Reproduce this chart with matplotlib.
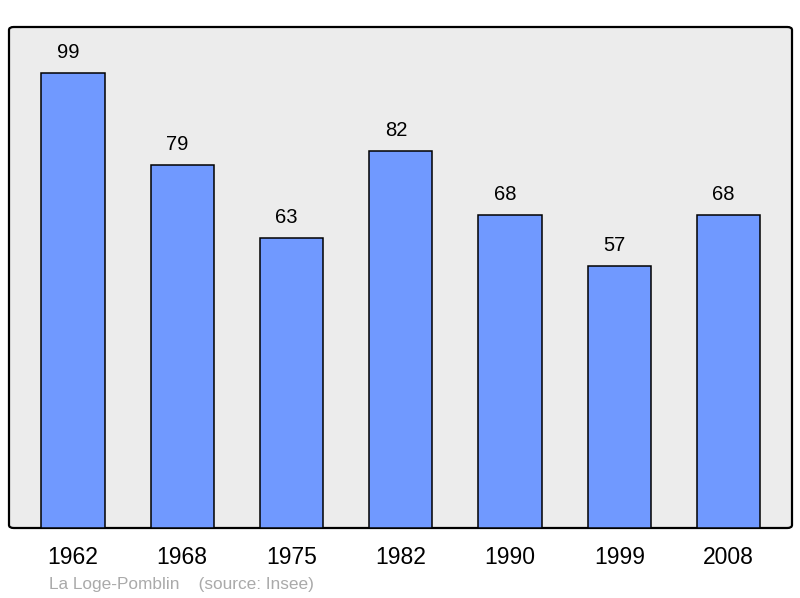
import matplotlib.pyplot as plt
from matplotlib.patches import FancyBboxPatch

plt.rcParams['font.family'] = ['Liberation Sans', 'DejaVu Sans']

years = ['1962', '1968', '1975', '1982', '1990', '1999', '2008']
population = [99, 79, 63, 82, 68, 57, 68]

bar_color = '#7099ff'
bg_color = '#ececec'

fig = plt.figure(figsize=(8, 5.98), dpi=100)
ax = fig.add_axes([9/800, 70/598, 783/800, 501/598])
ax.set_xlim(-0.585, 6.58)
ax.set_ylim(0, 109)
ax.axis('off')

# rounded frame with grey background
frame = FancyBboxPatch((0, 0), 1, 1, boxstyle='round,pad=0,rounding_size=0.006',
                       transform=ax.transAxes, facecolor=bg_color,
                       edgecolor='black', linewidth=1.6, clip_on=False, zorder=0)
ax.add_patch(frame)

x = range(len(years))
ax.bar(x, population, width=0.58, color=bar_color, edgecolor='black',
       linewidth=1.1, zorder=2)

for xi, v in zip(x, population):
    ax.text(xi - 0.045, v + 2.4, str(v), ha='center', va='bottom', fontsize=14.5)

for xi, yr in zip(x, years):
    ax.text(xi, -6.5, yr, ha='center', va='center', fontsize=16.5)

fig.text(49/800, 1 - 584/598, 'La Loge-Pomblin    (source: Insee)',
         ha='left', va='center', fontsize=12.4, color='#aaaaaa')

plt.savefig('out.png', dpi=100)
